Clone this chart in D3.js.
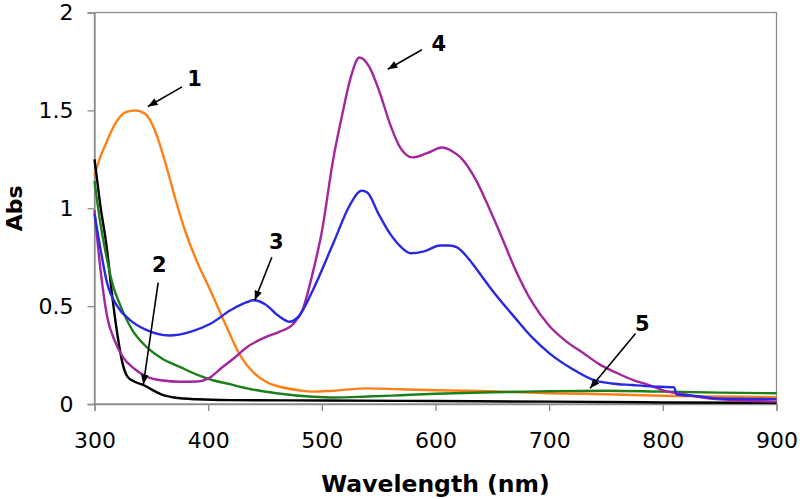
<!DOCTYPE html>
<html>
<head>
<meta charset="utf-8">
<script src="https://cdn.jsdelivr.net/npm/d3@7"></script>
<style>
  body { margin: 0; background: #fff; }
  svg { display: block; font-family: "DejaVu Sans", Verdana, sans-serif; }
</style>
</head>
<body>
<svg width="800" height="499"></svg>
<script>
// wavelength (nm) and absorbance
var wl1 = [300, 305, 310, 318, 327, 336, 345, 353, 362, 371, 380, 390, 402, 415, 428, 440, 452, 463, 480, 492, 510, 540, 570, 600, 650, 700, 750, 800, 850, 900];
var abs1 = [1.17, 1.26, 1.33, 1.43, 1.49, 1.50, 1.48, 1.40, 1.24, 1.05, 0.88, 0.73, 0.58, 0.41, 0.25, 0.16, 0.11, 0.088, 0.07, 0.063, 0.068, 0.08, 0.075, 0.07, 0.065, 0.055, 0.05, 0.042, 0.038, 0.035];

var wl2 = [300, 305, 311, 315, 320, 325, 329, 335, 343, 350, 360, 370, 390, 420, 500, 600, 700, 800, 900];
var abs2 = [1.25, 1.02, 0.79, 0.58, 0.36, 0.2, 0.14, 0.115, 0.097, 0.075, 0.046, 0.033, 0.024, 0.02, 0.018, 0.015, 0.012, 0.008, 0.006];

var wl3 = [300, 305, 311, 320, 331, 345, 366, 385, 402, 420, 434, 440, 450, 462, 472, 480, 492, 510, 525, 535, 540, 550, 560, 570, 578, 590, 604, 612, 619, 628, 636, 650, 670, 685, 700, 720, 738, 755, 773, 790, 810, 812, 830, 850, 900];
var abs3 = [0.97, 0.8, 0.62, 0.50, 0.43, 0.38, 0.35, 0.37, 0.41, 0.48, 0.52, 0.53, 0.51, 0.45, 0.42, 0.45, 0.58, 0.82, 1.02, 1.09, 1.08, 0.97, 0.87, 0.80, 0.77, 0.78, 0.81, 0.81, 0.80, 0.75, 0.69, 0.58, 0.44, 0.34, 0.26, 0.18, 0.125, 0.105, 0.097, 0.09, 0.085, 0.05, 0.04, 0.028, 0.025];

var wl4 = [300, 305, 311, 318, 325, 335, 346, 360, 375, 390, 400, 413, 424, 434, 450, 463, 475, 483, 492, 500, 510, 518, 525, 533, 542, 551, 560, 569, 580, 592, 606, 615, 622, 636, 645, 657, 670, 685, 700, 715, 730, 745, 759, 775, 788, 800, 818, 847, 870, 900];
var abs4 = [0.99, 0.7, 0.45, 0.32, 0.24, 0.18, 0.14, 0.12, 0.114, 0.115, 0.13, 0.19, 0.24, 0.29, 0.34, 0.37, 0.41, 0.48, 0.67, 0.88, 1.25, 1.48, 1.66, 1.77, 1.72, 1.59, 1.43, 1.31, 1.26, 1.28, 1.31, 1.29, 1.26, 1.14, 1.03, 0.87, 0.69, 0.52, 0.40, 0.32, 0.26, 0.2, 0.16, 0.12, 0.097, 0.07, 0.05, 0.025, 0.018, 0.012];

var wl5 = [300, 305, 311, 316, 323, 333, 346, 360, 375, 390, 405, 420, 434, 460, 492, 510, 540, 570, 600, 650, 700, 750, 800, 850, 900];
var abs5 = [1.14, 0.93, 0.74, 0.61, 0.50, 0.38, 0.29, 0.23, 0.19, 0.15, 0.12, 0.10, 0.08, 0.055, 0.037, 0.033, 0.038, 0.045, 0.052, 0.06, 0.065, 0.068, 0.063, 0.058, 0.055];

var xTicks = [300, 400, 500, 600, 700, 800, 900];
var yTicks = [0, 0.5, 1, 1.5, 2];

// label, where the number sits and the arrow from it (wl, abs)
var labels = ["1", "2", "3", "4", "5"];
var labelAt = [[388, 1.66], [357, 0.71], [460, 0.83], [603, 1.84], [782, 0.41]];
var arrowFrom = [[377, 1.62], [356, 0.62], [456, 0.75], [588, 1.81], [776, 0.36]];
var arrowTo = [[347, 1.52], [343, 0.10], [441, 0.53], [558, 1.71], [736, 0.08]];

var series = [
    {wl: wl1, abs: abs1, color: "#ff7f17"},
    {wl: wl2, abs: abs2, color: "#000000"},
    {wl: wl5, abs: abs5, color: "#1c7f1c"},
    {wl: wl4, abs: abs4, color: "#a3269e"},
    {wl: wl3, abs: abs3, color: "#2929e3"}
];

var svg = d3.select("svg");
var margin = {left: 94.5, right: 23.5, top: 12.5, bottom: 95};
var width = +svg.attr("width");
var height = +svg.attr("height");

var x = d3.scaleLinear().domain([300, 900]).range([margin.left, width - margin.right]);
var y = d3.scaleLinear().domain([0, 2]).range([height - margin.bottom, margin.top]);

svg.append("defs").append("marker")
    .attr("id", "arrow")
    .attr("viewBox", "0 -5 10 10")
    .attr("refX", 10)
    .attr("refY", 0)
    .attr("markerWidth", 7)
    .attr("markerHeight", 6)
    .attr("markerUnits", "strokeWidth")
    .attr("orient", "auto")
    .append("path")
    .attr("d", "M0,-4L10,0L0,4Z")
    .attr("fill", "#000");

// plot frame
svg.append("rect")
    .attr("x", x(300))
    .attr("y", y(2))
    .attr("width", x(900) - x(300))
    .attr("height", y(0) - y(2))
    .attr("fill", "none")
    .attr("stroke", "#8c8c8c")
    .attr("stroke-width", 1.3);

var xAxis = svg.append("g")
    .attr("transform", "translate(0," + y(0) + ")")
    .call(d3.axisBottom(x).tickValues(xTicks).tickSize(7).tickPadding(21));

var yAxis = svg.append("g")
    .attr("transform", "translate(" + x(300) + ",0)")
    .call(d3.axisLeft(y).tickValues(yTicks).tickSize(7).tickPadding(14)
        .tickFormat(function (d) { return d; }));

[xAxis, yAxis].forEach(function (g) {
    g.select(".domain").attr("stroke", "#8c8c8c").attr("stroke-width", 1.3);
    g.selectAll(".tick line").attr("stroke", "#8c8c8c").attr("stroke-width", 1.3);
    g.selectAll(".tick text")
        .attr("fill", "#000")
        .style("font-family", "DejaVu Sans, sans-serif")
        .style("font-size", "22px");
});

var line = d3.line()
    .x(function (d) { return x(d[0]); })
    .y(function (d) { return y(d[1]); })
    .curve(d3.curveMonotoneX);

svg.append("g").selectAll("path")
    .data(series)
    .enter().append("path")
    .attr("d", function (s) {
        return line(s.wl.map(function (w, i) { return [w, s.abs[i]]; }));
    })
    .attr("fill", "none")
    .attr("stroke", function (s) { return s.color; })
    .attr("stroke-width", 2.4)
    .attr("stroke-linejoin", "round");

// callouts
svg.append("g").selectAll("line")
    .data(labels)
    .enter().append("line")
    .attr("x1", function (d, i) { return x(arrowFrom[i][0]); })
    .attr("y1", function (d, i) { return y(arrowFrom[i][1]); })
    .attr("x2", function (d, i) { return x(arrowTo[i][0]); })
    .attr("y2", function (d, i) { return y(arrowTo[i][1]); })
    .attr("stroke", "#000")
    .attr("stroke-width", 1.6)
    .attr("marker-end", "url(#arrow)");

svg.append("g").selectAll("text")
    .data(labels)
    .enter().append("text")
    .attr("x", function (d, i) { return x(labelAt[i][0]); })
    .attr("y", function (d, i) { return y(labelAt[i][1]); })
    .attr("text-anchor", "middle")
    .attr("dominant-baseline", "central")
    .style("font-size", "21px")
    .style("font-weight", "bold")
    .text(function (d) { return d; });

svg.append("text")
    .attr("x", x(600))
    .attr("y", 484)
    .attr("text-anchor", "middle")
    .attr("dominant-baseline", "central")
    .style("font-size", "23.5px")
    .style("font-weight", "bold")
    .text("Wavelength (nm)");

svg.append("text")
    .attr("transform", "translate(14," + y(1) + ") rotate(-90)")
    .attr("text-anchor", "middle")
    .attr("dominant-baseline", "central")
    .style("font-size", "22px")
    .style("font-weight", "bold")
    .text("Abs");
</script>
</body>
</html>
